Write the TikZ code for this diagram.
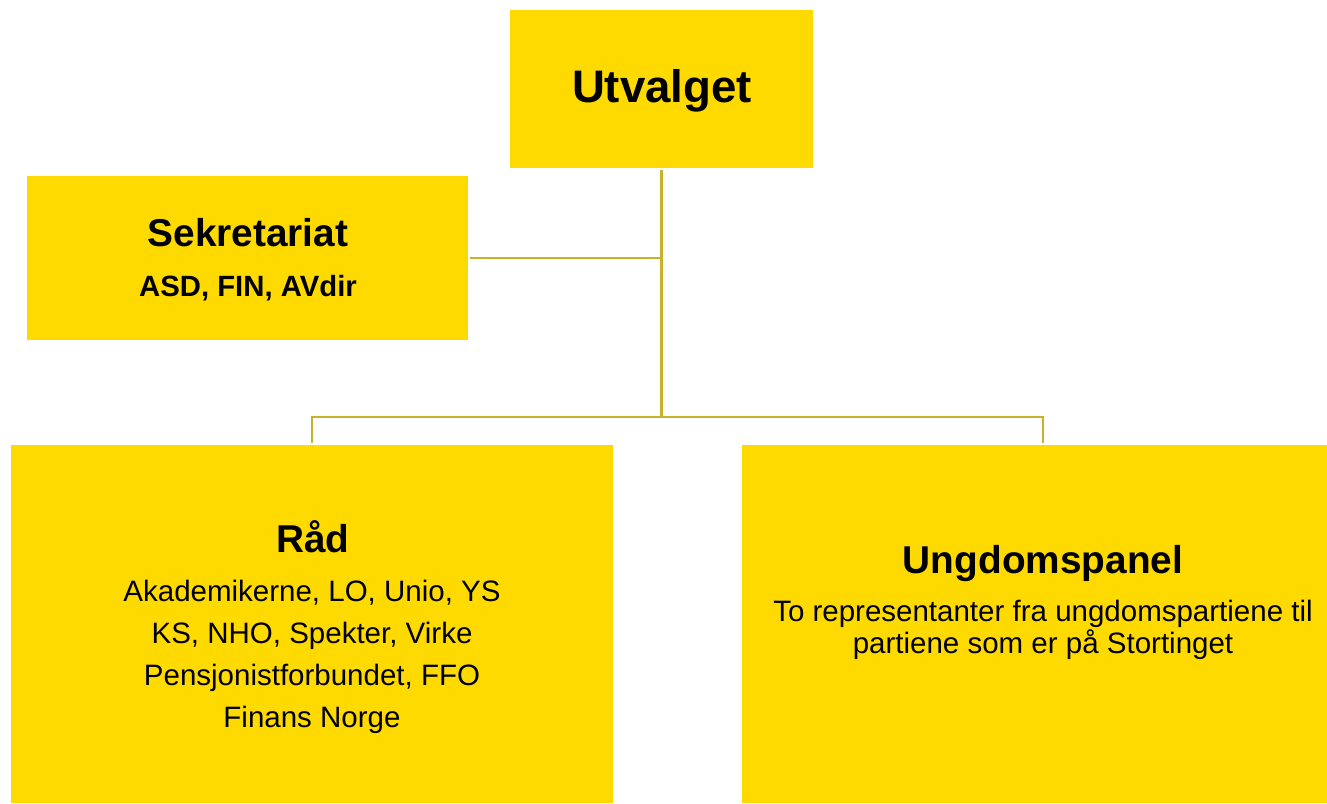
\documentclass[tikz,border=0pt]{standalone}
\usepackage{fontspec}
\setmainfont{Liberation Sans}
\definecolor{boxyellow}{RGB}{255,218,0}
\definecolor{linegold}{RGB}{200,178,44}

\tikzset{
  orgbox/.style={shape=rectangle, draw=none, fill=boxyellow, inner sep=0pt},
  orgline/.style={draw=linegold, line width=2.2pt, shorten <=2pt, shorten >=2pt},
  bigtitle/.style={anchor=base, font=\fontsize{45.6}{50}\selectfont\bfseries},
  title/.style={anchor=base, font=\fontsize{38.8}{44}\selectfont\bfseries},
  subtitle/.style={anchor=base, font=\fontsize{29.3}{32}\selectfont\bfseries},
  body/.style={anchor=base, font=\fontsize{29.5}{32}\selectfont}
}

\begin{document}
\begin{tikzpicture}[x=1pt, y=-1pt]
  \useasboundingbox (0,0) rectangle (1327,803);
  \clip (0,0) rectangle (1327,803);

  % boxes
  \node[orgbox, minimum width=303pt, minimum height=158pt] at (661.5,89)
  (utv) {};
  \node[orgbox, minimum width=441pt, minimum height=164pt] at (247.5,258)
  (sek) {};
  \node[orgbox, minimum width=602pt, minimum height=358pt] at (312,624)
  (raad) {};
  \node[orgbox, minimum width=602pt, minimum height=358pt] at (1043,624)
  (ung) {};

  % texts
  \node[bigtitle] at (662,102.7) (utvtxt) {Utvalget};
  \node[title] at (248,246) (sektxt) {Sekretariat};
  \node[subtitle] at (248,296) (sekmembers) {ASD, FIN, AVdir};
  \node[title] at (313,552.6) (raadtxt) {Råd};
  \foreach \members [count=\i] in {{Akademikerne, LO, Unio, YS},
      {KS, NHO, Spekter, Virke}, {Pensjonistforbundet, FFO}, {Finans Norge}}
    \node[body] at (312,601+42*\i-42) (raadline\i) {\members};
  \node[title] at (1043,573) (ungtxt) {Ungdomspanel};
  \node[body] at (1043,621) (ungline1) {To representanter fra ungdomspartiene til};
  \node[body] at (1043,653) (ungline2) {partiene som er på Stortinget};

  % connectors
  \coordinate (hub) at (utv.south |- sek.east);
  \coordinate (bus) at (661.5,416.7);
  \draw[orgline, shorten >=0pt] (utv.south) -- (bus);
  \draw[orgline, shorten >=0pt] (sek.east) -- (hub);
  \draw[orgline, shorten <=0pt] (bus) -| (raad.north);
  \draw[orgline, shorten <=0pt] (bus) -| (ung.north);
\end{tikzpicture}
\end{document}
